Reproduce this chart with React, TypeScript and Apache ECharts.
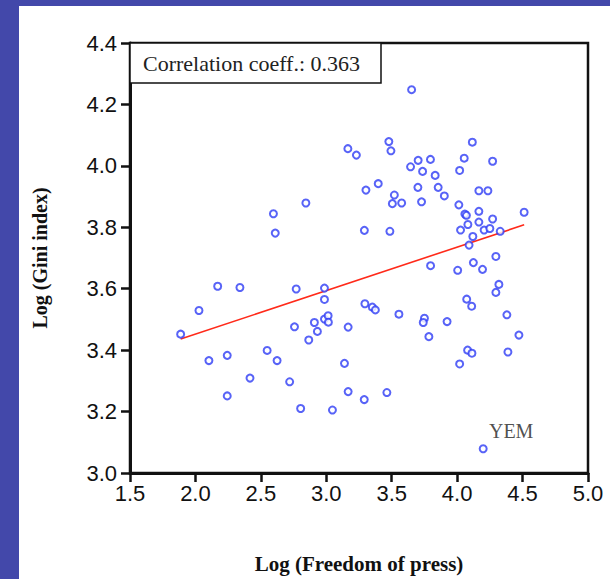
import React, { useEffect, useRef } from "react";
import * as echarts from "echarts";

// Log (Freedom of press) values
const pressX: number[] = [
  1.887, 2.027, 2.17, 2.34, 2.103, 2.243, 2.548, 2.624, 2.417, 2.72,
  2.243, 2.804, 3.047, 2.77, 2.986, 2.986, 2.757, 2.909, 2.932, 2.986,
  3.014, 3.016, 2.866, 3.167, 3.139, 3.167, 2.596, 2.61, 2.844, 3.165,
  3.23, 3.303, 3.291, 3.295, 3.29, 3.652, 3.478, 3.494, 4.116, 3.702,
  3.796, 4.054, 4.271, 3.644, 3.736, 3.832, 4.019, 3.397, 3.7, 3.855,
  3.902, 4.166, 4.235, 3.52, 3.505, 3.576, 3.728, 4.013, 4.059, 4.071,
  4.166, 4.512, 4.271, 4.166, 4.082, 3.486, 4.026, 4.206, 4.25, 4.329,
  4.12, 4.091, 3.797, 4.004, 4.124, 4.194, 4.296, 4.319, 4.296, 3.352,
  3.375, 3.555, 3.75, 3.741, 3.923, 4.073, 4.111, 4.38, 3.784, 4.472,
  4.08, 4.113, 4.388, 4.019, 3.463,
];

// Log (Gini index) values
const giniY: number[] = [
  3.452, 3.529, 3.608, 3.604, 3.366, 3.383, 3.399, 3.366, 3.309, 3.297,
  3.251, 3.21, 3.205, 3.599, 3.602, 3.565, 3.476, 3.49, 3.461, 3.501,
  3.512, 3.491, 3.433, 3.475, 3.357, 3.265, 3.844, 3.781, 3.879, 4.056,
  4.035, 3.921, 3.79, 3.551, 3.239, 4.248, 4.079, 4.049, 4.077, 4.018,
  4.021, 4.025, 4.015, 3.997, 3.982, 3.969, 3.985, 3.942, 3.93, 3.93,
  3.902, 3.919, 3.919, 3.905, 3.877, 3.879, 3.883, 3.873, 3.843, 3.839,
  3.852, 3.849, 3.827, 3.817, 3.809, 3.787, 3.791, 3.791, 3.796, 3.787,
  3.77, 3.742, 3.675, 3.66, 3.685, 3.663, 3.705, 3.614, 3.588, 3.54,
  3.531, 3.517, 3.504, 3.49, 3.493, 3.566, 3.543, 3.515, 3.444, 3.449,
  3.4, 3.39, 3.394, 3.355, 3.262,
];

// Labelled outlier
const labelNames: string[] = ["YEM"];
const labelX: number[] = [4.199];
const labelY: number[] = [3.079];

// Fitted regression line end points
const fitX: number[] = [1.887, 4.512];
const fitY: number[] = [3.436, 3.808];

const correlationText = "Correlation coeff.: 0.363";

export default function App() {
  const ref = useRef<HTMLDivElement>(null);

  useEffect(() => {
    const chart = echarts.init(ref.current!, null, { renderer: "svg" });
    const serif = "'Liberation Serif', 'Times New Roman', serif";
    const sans = "'Liberation Sans', Arial, sans-serif";
    const blue = "#2e3cf5";

    chart.setOption({
      animation: false,
      backgroundColor: "transparent",
      grid: {
        left: 130,
        right: 22,
        top: 43,
        bottom: 104,
        show: true,
        borderColor: "#111",
        borderWidth: 2.5,
        backgroundColor: "#fff",
      },
      xAxis: {
        type: "value",
        min: 1.5,
        max: 5.0,
        interval: 0.5,
        splitLine: { show: false },
        axisLine: { show: true, onZero: false, lineStyle: { color: "#111", width: 3 } },
        axisTick: { show: true, length: 9, lineStyle: { color: "#111", width: 2.5 } },
        axisLabel: {
          formatter: (v: number) => v.toFixed(1),
          fontSize: 22,
          fontFamily: sans,
          color: "#111",
          margin: 9,
        },
        name: "Log (Freedom of press)",
        nameLocation: "middle",
        nameGap: 80,
        nameTextStyle: { fontFamily: serif, fontWeight: "bold", fontSize: 21, color: "#111" },
      },
      yAxis: {
        type: "value",
        min: 3.0,
        max: 4.4,
        interval: 0.2,
        splitLine: { show: false },
        axisLine: { show: true, onZero: false, lineStyle: { color: "#111", width: 3 } },
        axisTick: { show: true, length: 9, lineStyle: { color: "#111", width: 2.5 } },
        axisLabel: {
          formatter: (v: number) => v.toFixed(1),
          fontSize: 22,
          fontFamily: sans,
          color: "#111",
          margin: 13,
        },
        name: "Log (Gini index)",
        nameLocation: "middle",
        nameGap: 80,
        nameRotate: 90,
        nameTextStyle: { fontFamily: serif, fontWeight: "bold", fontSize: 20, color: "#111" },
      },
      graphic: [
        {
          type: "rect",
          shape: { x: 130, y: 43, width: 251, height: 40 },
          style: { fill: "#fff", stroke: "#111", lineWidth: 1.5 },
          z: 10,
        },
        {
          type: "text",
          x: 143,
          y: 64,
          scaleX: 1.1,
          style: {
            text: correlationText,
            fontFamily: serif,
            fontSize: 20,
            fill: "#222",
            verticalAlign: "middle",
            align: "left",
          },
          z: 11,
        },
      ],
      series: [
        {
          type: "line",
          data: fitX.map((x, i) => [x, fitY[i]]),
          symbol: "none",
          lineStyle: { color: "#ff2a1a", width: 1.6 },
          z: 2,
        },
        {
          type: "scatter",
          data: pressX.map((x, i) => [x, giniY[i]]),
          symbol: "emptyCircle",
          symbolSize: 7,
          itemStyle: { color: blue, borderColor: blue, borderWidth: 1.8 },
          z: 3,
        },
        {
          type: "scatter",
          data: labelX.map((x, i) => ({ value: [x, labelY[i]], name: labelNames[i] })),
          symbol: "emptyCircle",
          symbolSize: 7,
          itemStyle: { color: blue, borderColor: blue, borderWidth: 1.8 },
          label: {
            show: true,
            formatter: (p: any) => p.name,
            position: "inside",
            offset: [28, -18],
            fontFamily: serif,
            fontSize: 20,
            color: "#222",
          },
          z: 3,
        },
      ],
    });

    return () => chart.dispose();
  }, []);

  return (
    <div
      style={{
        position: "fixed",
        left: 0,
        top: 0,
        width: 610,
        height: 579,
        background: "#4348aa",
      }}
    >
      <div
        style={{
          position: "absolute",
          left: 19,
          top: 6,
          width: 591,
          height: 573,
          background: "#fff",
        }}
      />
      <div
        ref={ref}
        style={{ position: "absolute", left: 0, top: 0, width: 610, height: 579 }}
      />
    </div>
  );
}
